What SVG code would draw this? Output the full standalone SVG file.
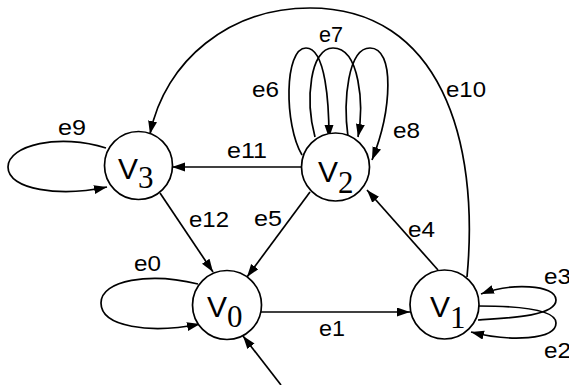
<svg xmlns="http://www.w3.org/2000/svg" width="569" height="385" viewBox="0 0 569 385">
<style>
.node circle{fill:#fff;stroke:#000;stroke-width:1.7}
.v{font-family:"Liberation Sans",Arial,sans-serif;font-size:30px;fill:#000}
.sub{font-family:"Liberation Serif","Times New Roman",serif;font-size:31px}
.edges path{fill:none;stroke:#000;stroke-width:1.7}
.lbl{font-family:"Liberation Sans",Arial,sans-serif;font-size:22px;fill:#000}
</style>
<defs>
<marker id="ah" markerUnits="userSpaceOnUse" markerWidth="14" markerHeight="10" refX="13" refY="4.5" orient="auto">
<path d="M0,0 L13,4.5 L0,9 z" fill="#000"/>
</marker>
</defs>
<rect width="569" height="385" fill="#fff"/>
<g class="edges">
<path id="e0" d="M198,284 C150,272 101,280 101,303 C101,327 150,334 200,324" marker-end="url(#ah)"/>
<path id="e1" d="M260,312 L410,312" marker-end="url(#ah)"/>
<path id="e2" d="M478,306 C510,306 556,308 556,323 C556,340 510,342 471,332" marker-end="url(#ah)"/>
<path id="e3" d="M478,320 C510,318 556,316 556,300 C556,284 510,283 481,294" marker-end="url(#ah)"/>
<path id="e4" d="M438,270 L367,190" marker-end="url(#ah)"/>
<path id="e5" d="M310,192 L247,277" marker-end="url(#ah)"/>
<path id="e6" d="M302,155 C284,125 284,48 306,48 C326,48 329,105 329,138" marker-end="url(#ah)"/>
<path id="e7" d="M315,137 C305,100 310,48 333,48 C360,48 364,105 358,137" marker-end="url(#ah)"/>
<path id="e8" d="M348,137 C343,100 348,48 370,48 C395,48 392,110 372,160" marker-end="url(#ah)"/>
<path id="e9" d="M106,148 C60,133 8,145 8,167 C8,190 60,197 107,187" marker-end="url(#ah)"/>
<path id="e10" d="M467,277 C480,140 440,8 310,8 C230,8 165,60 150,134" marker-end="url(#ah)"/>
<path id="e11" d="M302,167 L172,167" marker-end="url(#ah)"/>
<path id="e12" d="M160,193 L213,272" marker-end="url(#ah)"/>
<path id="init" d="M281,385 L243,336" marker-end="url(#ah)"/>
</g>
<g class="labels">
<text class="lbl" x="134" y="271" textLength="27" lengthAdjust="spacingAndGlyphs">e0</text>
<text class="lbl" x="319" y="336" textLength="26" lengthAdjust="spacingAndGlyphs">e1</text>
<text class="lbl" x="544" y="358" textLength="27" lengthAdjust="spacingAndGlyphs">e2</text>
<text class="lbl" x="544" y="284" textLength="27" lengthAdjust="spacingAndGlyphs">e3</text>
<text class="lbl" x="408" y="237" textLength="27" lengthAdjust="spacingAndGlyphs">e4</text>
<text class="lbl" x="254" y="226" textLength="28" lengthAdjust="spacingAndGlyphs">e5</text>
<text class="lbl" x="252" y="97" textLength="27" lengthAdjust="spacingAndGlyphs">e6</text>
<text class="lbl" x="319" y="42" textLength="24" lengthAdjust="spacingAndGlyphs">e7</text>
<text class="lbl" x="393" y="138" textLength="27" lengthAdjust="spacingAndGlyphs">e8</text>
<text class="lbl" x="58" y="135" textLength="28" lengthAdjust="spacingAndGlyphs">e9</text>
<text class="lbl" x="446" y="97" textLength="40" lengthAdjust="spacingAndGlyphs">e10</text>
<text class="lbl" x="227" y="158" textLength="40" lengthAdjust="spacingAndGlyphs">e11</text>
<text class="lbl" x="189" y="227" textLength="40" lengthAdjust="spacingAndGlyphs">e12</text>
</g>
<g id="V0" class="node"><circle cx="227" cy="305" r="34.5"/><text class="v" x="207" y="316.5">V<tspan class="sub" dy="10">0</tspan></text></g>
<g id="V1" class="node"><circle cx="444.5" cy="304.5" r="34.5"/><text class="v" x="430" y="316.7">V<tspan class="sub" dy="11.5">1</tspan></text></g>
<g id="V2" class="node"><circle cx="335.5" cy="167" r="34"/><text class="v" x="318" y="181.7">V<tspan class="sub" dy="11">2</tspan></text></g>
<g id="V3" class="node"><circle cx="138.5" cy="165.5" r="34"/><text class="v" x="118" y="179.3">V<tspan class="sub" dy="9">3</tspan></text></g>
</svg>
